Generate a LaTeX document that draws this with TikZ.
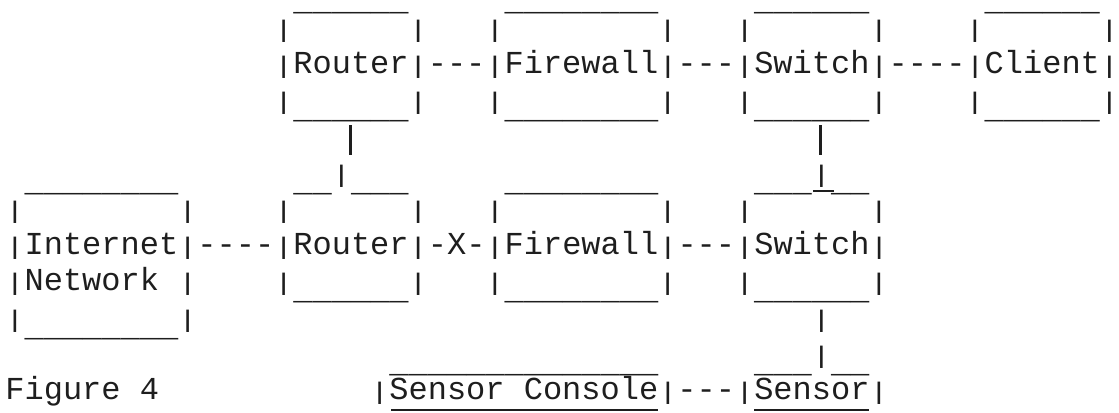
\documentclass[tikz,border=0pt]{standalone}
\usepackage{fontspec}
\setmonofont{Liberation Mono}
\usepackage{graphicx}
\usepackage{tikz}
\usepackage{xcolor}
\usetikzlibrary{positioning}
\definecolor{ttInk}{RGB}{30,30,30}
\newcommand{\lo}{\raisebox{-6.8pt}{\_}}
\newcommand{\vb}{\scalebox{1}[0.75]{|}}
\newcommand{\lowline}[1]{\foreach \k in {1,...,#1}{\lo}}

\begin{document}
\begin{tikzpicture}[x=14.4pt,y=-27.15pt,
  tt/.style={anchor=base west,inner sep=0pt,outer sep=0pt,
    font=\ttfamily\fontsize{24}{27.15}\selectfont,text=ttInk},
  heavy/.style={draw=ttInk,line width=2.1pt}]
  \useasboundingbox (-4.05pt,0.9pt) rectangle (835.2pt,-308.1pt);
  % upper chain
  \node[tt] (topA) at (15,0) {\lowline{6}};
  \node[tt] (topB) at (26,0) {\lowline{8}};
  \node[tt] (topC) at (39,0) {\lowline{6}};
  \node[tt] (topD) at (51,0) {\lowline{6}};
  \foreach \c in {14,21,25,34,38,45,50,57}{\node[tt] (side1-\c) at (\c,1) {\vb};}
  \node[tt] (upper) at (14,2) {\vb Router\vb---\vb Firewall\vb---\vb Switch\vb----\vb Client\vb};
  \node[tt] (baseA) at (14,3) {\vb\lowline{6}\vb};
  \node[tt] (baseB) at (25,3) {\vb\lowline{8}\vb};
  \node[tt] (baseC) at (38,3) {\vb\lowline{6}\vb};
  \node[tt] (baseD) at (50,3) {\vb\lowline{6}\vb};
  % drops between the chains
  \coordinate (dropA1) at (17.98,3.42);
  \coordinate (dropA2) at (17.98,4.25);
  \coordinate (dropC1) at (42.46,3.42);
  \coordinate (dropC2) at (42.46,4.25);
  \draw[heavy] (dropA1) -- (dropA2);
  \draw[heavy] (dropC1) -- (dropC2);
  % lower chain
  \node[tt] (capI) at (1,5) {\lowline{8}};
  \node[tt] (capR) at (15,5) {\lo\lo\vb\lo\lo\lo};
  \node[tt] (capF) at (26,5) {\lowline{8}};
  \node[tt] (capS) at (39,5) {\lo\lo\lo\vb\lo\lo};
  \coordinate (nickL) at (42.06,5.24);
  \coordinate (nickR) at (43.16,5.24);
  \draw[heavy,line width=1.5pt] (nickL) -- (nickR);
  \foreach \c in {0,9,14,21,25,34,38,45}{\node[tt] (side2-\c) at (\c,6) {\vb};}
  \node[tt] (lower) at (0,7) {\vb Internet\vb----\vb Router\vb-X-\vb Firewall\vb---\vb Switch\vb};
  \node[tt] (net) at (0,8) {\vb Network \vb};
  \node[tt] (footR) at (14,8) {\vb\lowline{6}\vb};
  \node[tt] (footF) at (25,8) {\vb\lowline{8}\vb};
  \node[tt] (footS) at (38,8) {\vb\lowline{6}\vb};
  \node[tt] (footI) at (0,9) {\vb\lowline{8}\vb};
  \node[tt] (tap) at (42,9) {\vb};
  % sensor line
  \node[tt] (capC) at (20,10) {\lowline{14}};
  \node[tt] (capN) at (39,10) {\lo\lo\lo\vb\lo\lo};
  \node[tt] (fig) at (0,11) {Figure 4};
  \node[tt] (sensors) at (19,11) {\vb Sensor Console\vb---\vb Sensor\vb};
  \coordinate (lineC1) at (20.1,11.29);
  \coordinate (lineC2) at (34,11.29);
  \coordinate (lineN1) at (39,11.29);
  \coordinate (lineN2) at (45,11.29);
  \draw[heavy] (lineC1) -- (lineC2);
  \draw[heavy] (lineN1) -- (lineN2);
\end{tikzpicture}
\end{document}
